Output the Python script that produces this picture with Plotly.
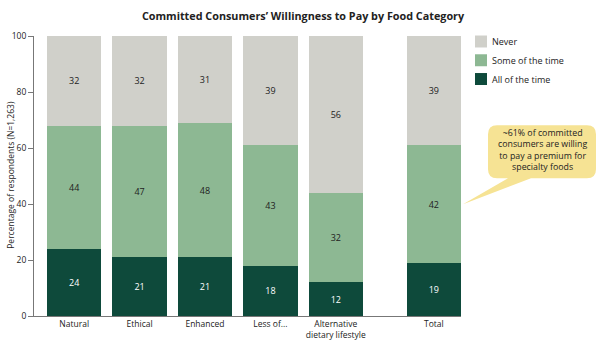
import plotly.graph_objects as go

categories = ["Natural", "Ethical", "Enhanced", "Less of...", "Alternative<br>dietary lifestyle", "Total"]
x_pos = [0, 1, 2, 3, 4, 5.5]
all_time = [24, 21, 21, 18, 12, 19]
some_time = [44, 47, 48, 43, 32, 42]
never = [32, 32, 31, 39, 56, 39]
series_names = ["All of the time", "Some of the time", "Never"]

C_ALL = "#0e4a3b"
C_SOME = "#8db893"
C_NEVER = "#d0d0ca"
FONT = "Open Sans"

W, H = 602, 343
L, R, T, B = 34, 141, 35.5, 27
pw, ph = W - L - R, H - T - B


def px(x):
    return (x - L) / pw


def py(y):
    return (H - B - y) / ph


fig = go.Figure()
for name, vals, col, tcol in [(series_names[0], all_time, C_ALL, "white"),
                              (series_names[1], some_time, C_SOME, "#222"),
                              (series_names[2], never, C_NEVER, "#222")]:
    fig.add_bar(x=x_pos, y=vals, name=name, marker=dict(color=col, line=dict(width=0)),
                text=vals, textposition="inside", insidetextanchor="middle",
                textfont=dict(color=tcol, size=9, family=FONT), width=0.83,
                constraintext="none", showlegend=False)

# manual legend (Never on top)
for i, (name, col) in enumerate([(series_names[2], C_NEVER), (series_names[1], C_SOME),
                                 (series_names[0], C_ALL)]):
    top = 35 + i * 18.8
    fig.add_shape(type="rect", xref="paper", yref="paper",
                  x0=px(475), x1=px(487), y0=py(top), y1=py(top + 12),
                  fillcolor=col, line=dict(width=0))
    fig.add_annotation(x=px(490), y=py(top + 6), xref="paper", yref="paper",
                       text=name, showarrow=False, xanchor="left", yanchor="middle",
                       font=dict(size=9, family=FONT, color="#222"))

# y-axis title
fig.add_annotation(x=px(10.5), y=py(175), xref="paper", yref="paper",
                   text="Percentage of respondents (N=1,263)", textangle=-90,
                   showarrow=False, xanchor="center", yanchor="middle",
                   font=dict(size=8.5, family=FONT, color="#222"))

# callout bubble
x0, x1, y0, y1, r = 488, 596, 125, 178, 9
path = (f"M {px(x0 + r)},{py(y0)} L {px(x1 - r)},{py(y0)} "
        f"Q {px(x1)},{py(y0)} {px(x1)},{py(y0 + r)} "
        f"L {px(x1)},{py(y1 - r)} Q {px(x1)},{py(y1)} {px(x1 - r)},{py(y1)} "
        f"L {px(531)},{py(y1)} L {px(463)},{py(204)} L {px(508)},{py(y1)} "
        f"L {px(x0 + r)},{py(y1)} Q {px(x0)},{py(y1)} {px(x0)},{py(y1 - r)} "
        f"L {px(x0)},{py(y0 + r)} Q {px(x0)},{py(y0)} {px(x0 + r)},{py(y0)} Z")
fig.add_shape(type="path", path=path, xref="paper", yref="paper",
              fillcolor="#f6e394", line=dict(width=0), layer="above")
fig.add_annotation(x=px(542), y=py(150), xref="paper", yref="paper",
                   text="~61% of committed<br>consumers are willing<br>to pay a premium for<br>specialty foods",
                   showarrow=False, font=dict(size=8.8, family=FONT, color="#222"),
                   align="center", xanchor="center", yanchor="middle")

fig.update_layout(
    width=W, height=H,
    barmode="stack",
    margin=dict(l=L, r=R, t=T, b=B, autoexpand=False),
    paper_bgcolor="white", plot_bgcolor="white",
    font=dict(family=FONT, size=8.5, color="#222"),
    title=dict(text="<b>Committed Consumers’ Willingness to Pay by Food Category</b>",
               x=px(303), xref="paper", xanchor="center", y=1 - 16 / H, yanchor="middle",
               font=dict(size=10.8, family=FONT, color="#222")),
    xaxis=dict(range=[-0.615, 5.915], tickvals=x_pos, ticktext=categories,
               showline=True, linecolor="#777", linewidth=1, ticks="",
               showgrid=False, zeroline=False, tickfont=dict(size=8.5), automargin=False),
    yaxis=dict(range=[0, 100], dtick=20, showline=True, linecolor="#777", linewidth=1,
               ticks="outside", ticklen=5, tickcolor="#777", showgrid=False, zeroline=False,
               automargin=False, tickfont=dict(size=8.5)),
    showlegend=False,
    uniformtext=dict(minsize=8, mode="show"),
)

fig.write_html("out.html")
